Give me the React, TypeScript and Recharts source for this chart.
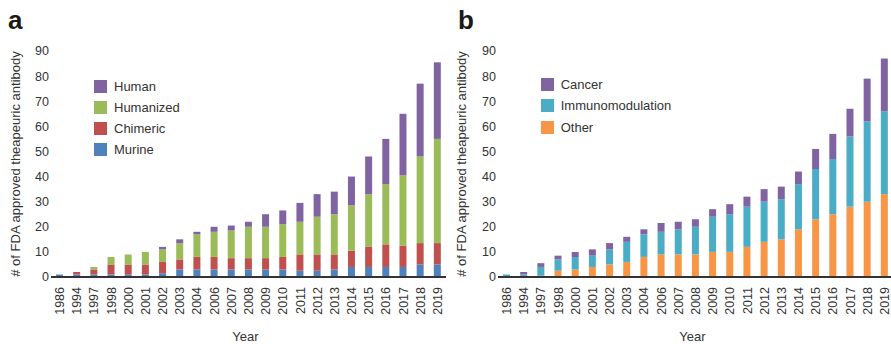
import React from 'react';
import { BarChart, Bar, XAxis, YAxis, Legend, Label } from 'recharts';

// Approval years shown on the category axis
const years = ['1986', '1994', '1997', '1998', '2000', '2001', '2002', '2003', '2004', '2006', '2007', '2008', '2009', '2010', '2011', '2012', '2013', '2014', '2015', '2016', '2017', '2018', '2019'];

// Panel a: antibodies by source
const murine = [1, 1, 1, 1, 1, 1, 1.5, 3, 3, 3, 3, 3, 3, 3, 2.5, 2.5, 3, 4, 4, 4, 4, 5, 5];
const chimeric = [0, 1, 2, 4, 4, 4, 4.5, 4, 5, 5, 4.5, 4.5, 4.5, 5, 6.5, 6.5, 6, 6.5, 8, 9, 8.5, 8.5, 8.5];
const humanized = [0, 0, 1, 3, 4, 5, 5, 6.5, 9, 10, 11, 12.5, 12.5, 13, 13, 15, 16, 18, 21, 24, 28, 34.5, 41.5];
const human = [0, 0, 0, 0, 0, 0, 1, 1.5, 1, 2, 2, 2, 5, 5.5, 7.5, 9, 9, 11.5, 15, 18, 24.5, 29, 30.5];

// Panel b: antibodies by indication
const other = [0, 0, 0.5, 2.5, 3, 4, 5, 6, 8, 9, 9, 9, 10, 10, 12, 14, 15, 19, 23, 25, 28, 30, 33];
const immunomodulation = [1, 1, 3.5, 4.5, 5, 4.5, 6, 8, 9, 9, 10, 11, 14, 15, 16, 16, 16, 18, 20, 22, 28, 32, 33];
const cancer = [0, 1, 1.5, 1.5, 2, 2.5, 2.5, 2, 2, 3.5, 3, 3, 3, 4, 4, 5, 5, 5, 8, 10, 11, 17, 21];

const yTicks = [0, 10, 20, 30, 40, 50, 60, 70, 80, 90];

const dataA = years.map((year, i) => ({
  year,
  Murine: murine[i],
  Chimeric: chimeric[i],
  Humanized: humanized[i],
  Human: human[i],
}));

const dataB = years.map((year, i) => ({
  year,
  Other: other[i],
  Immunomodulation: immunomodulation[i],
  Cancer: cancer[i],
}));

const FONT = '"Liberation Sans", Arial, Helvetica, sans-serif';
const TEXT = '#333333';

const seriesA = [
  { key: 'Murine', color: '#4F81BD' },
  { key: 'Chimeric', color: '#C0504D' },
  { key: 'Humanized', color: '#9BBB59' },
  { key: 'Human', color: '#8064A2' },
];

const seriesB = [
  { key: 'Other', color: '#F79646' },
  { key: 'Immunomodulation', color: '#4BACC6' },
  { key: 'Cancer', color: '#8064A2' },
];

const YEAR_TITLE = 'Year';
const Y_TITLE = '# of FDA approved theapeuric antibody';

function RotatedTick(props: any) {
  const { x, y, payload } = props;
  return (
    <text
      transform={`translate(${x},${y}) rotate(-90)`}
      textAnchor="end"
      dy="0.36em"
      fontSize={12.5}
      fill={TEXT}
      fontFamily={FONT}
    >
      {payload.value}
    </text>
  );
}

function makeLegend(items: { key: string; color: string }[], rowHeight: number) {
  return () => (
    <div style={{ fontFamily: FONT, fontSize: 13, color: TEXT }}>
      {items.map((it) => (
        <div key={it.key} style={{ display: 'flex', alignItems: 'center', height: rowHeight }}>
          <div style={{ width: 13, height: 13, background: it.color }} />
          <span style={{ marginLeft: 7, whiteSpace: 'nowrap' }}>{it.key}</span>
        </div>
      ))}
    </div>
  );
}

function YTitle(props: any) {
  const vb = props.viewBox;
  const cx = vb.x + 19.5;
  const cy = vb.y + vb.height / 2;
  return (
    <text
      transform={`translate(${cx},${cy}) rotate(-90)`}
      textAnchor="middle"
      fontSize={13}
      fill={TEXT}
      fontFamily={FONT}
    >
      {Y_TITLE}
    </text>
  );
}

function XTitle(props: any) {
  const vb = props.viewBox;
  const cx = vb.x + vb.width / 2 - 3;
  return (
    <text x={cx} y={341} textAnchor="middle" fontSize={13} fill={TEXT} fontFamily={FONT}>
      {YEAR_TITLE}
    </text>
  );
}

function Panel(props: {
  data: any[];
  series: { key: string; color: string }[];
  legendItems: { key: string; color: string }[];
  width: number;
  yWidth: number;
  rightMargin: number;
  legendLeft: number;
  legendTop: number;
  rowHeight: number;
}) {
  const { data, series, legendItems, width, yWidth, rightMargin, legendLeft, legendTop, rowHeight } = props;
  return (
    <BarChart
      width={width}
      height={344}
      data={data}
      margin={{ top: 51, right: rightMargin, bottom: 0, left: 0 }}
      barCategoryGap={0}
    >
      <XAxis
        dataKey="year"
        interval={0}
        height={67}
        tickSize={0}
        tickMargin={10}
        tick={<RotatedTick />}
        axisLine={{ stroke: '#333333', strokeWidth: 2 }}
        tickLine={false}
      >
        <Label content={<XTitle />} />
      </XAxis>
      <YAxis
        width={yWidth}
        domain={[0, 90]}
        ticks={yTicks}
        interval={0}
        tickSize={0}
        tickMargin={2}
        axisLine={false}
        tickLine={false}
        tick={{ fontSize: 12.5, fill: TEXT, fontFamily: FONT }}
      >
        <Label content={<YTitle />} />
      </YAxis>
      <Legend
        layout="vertical"
        align="center"
        verticalAlign="middle"
        width={220}
        wrapperStyle={{ left: legendLeft, top: legendTop }}
        content={makeLegend(legendItems, rowHeight)}
      />
      {series.map((s) => (
        <Bar key={s.key} dataKey={s.key} stackId="a" fill={s.color} barSize={7} isAnimationActive={false} />
      ))}
    </BarChart>
  );
}

export default function App() {
  return (
    <div
      style={{
        position: 'absolute',
        left: 0,
        top: 0,
        width: 891,
        height: 344,
        overflow: 'hidden',
        background: '#ffffff',
        fontFamily: FONT,
      }}
    >
      <div style={{ position: 'absolute', left: 0, top: 0 }}>
        <Panel
          data={dataA}
          series={seriesA}
          legendItems={[...seriesA].reverse()}
          width={450}
          yWidth={51}
          rightMargin={4}
          legendLeft={94}
          legendTop={75.5}
          rowHeight={21}
        />
      </div>
      <div style={{ position: 'absolute', left: 446, top: 0 }}>
        <Panel
          data={dataB}
          series={seriesB}
          legendItems={[...seriesB].reverse()}
          width={447}
          yWidth={52}
          rightMargin={0}
          legendLeft={94.7}
          legendTop={73.5}
          rowHeight={21.5}
        />
      </div>
      <div style={{ position: 'absolute', left: 8, top: 5, fontSize: 26, fontWeight: 700, color: '#1a1a1a', lineHeight: '30px' }}>a</div>
      <div style={{ position: 'absolute', left: 458, top: 5, fontSize: 26, fontWeight: 700, color: '#1a1a1a', lineHeight: '30px' }}>b</div>
    </div>
  );
}
